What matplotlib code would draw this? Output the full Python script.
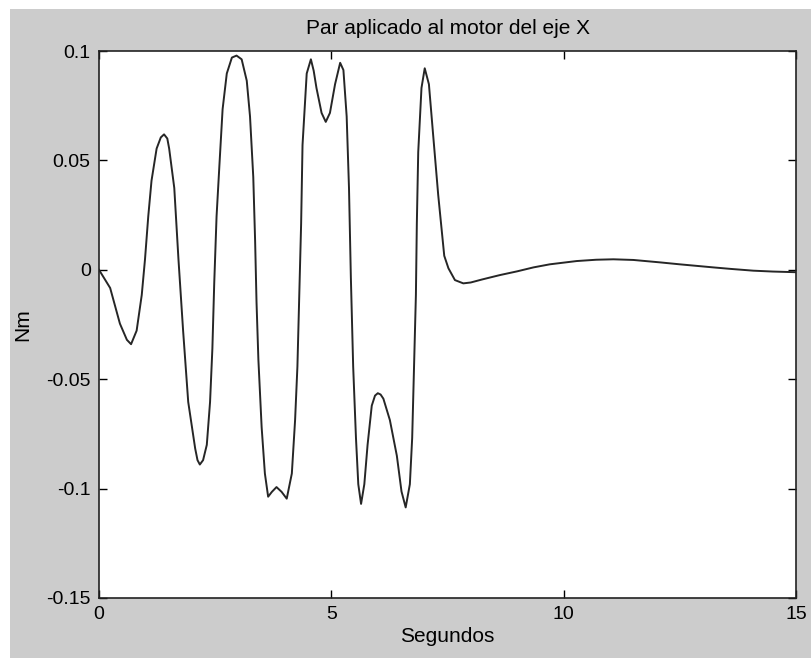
import numpy as np
import matplotlib
matplotlib.use('Agg')
import matplotlib.pyplot as plt
from matplotlib.patches import Rectangle
from matplotlib import font_manager

# Datos (segundos, Nm)
t = [0.0, 0.24, 0.45, 0.60, 0.69, 0.81, 0.92, 0.99, 1.06, 1.13, 1.24, 1.33,
     1.40, 1.47, 1.51, 1.62, 1.71, 1.81, 1.92, 2.07, 2.12, 2.17, 2.24, 2.32,
     2.39, 2.44, 2.48, 2.53, 2.59, 2.66, 2.75, 2.86, 2.96, 3.07, 3.18, 3.25,
     3.32, 3.36, 3.39, 3.43, 3.50, 3.57, 3.64, 3.72, 3.82, 3.93, 4.04, 4.15,
     4.22, 4.27, 4.31, 4.35, 4.38, 4.47, 4.56, 4.62, 4.68, 4.79, 4.88, 4.97,
     5.08, 5.19, 5.26, 5.33, 5.38, 5.42, 5.47, 5.53, 5.58, 5.64, 5.71, 5.78,
     5.87, 5.94, 6.00, 6.06, 6.12, 6.26, 6.41, 6.51, 6.60, 6.69, 6.74, 6.78,
     6.82, 6.84, 6.87, 6.94, 7.01, 7.10, 7.19, 7.30, 7.43, 7.52, 7.66, 7.84,
     8.00, 8.23, 8.40, 8.63, 9.00, 9.35, 9.70, 10.28, 10.70, 11.07, 11.50,
     12.07, 12.50, 13.22, 13.60, 14.08, 14.50, 15.0]
par = [0.0, -0.0083, -0.0246, -0.0320, -0.0340, -0.0278, -0.0115, 0.0048,
       0.0244, 0.0407, 0.0554, 0.0605, 0.0619, 0.0600, 0.0554, 0.0374, 0.0048,
       -0.0278, -0.0604, -0.0817, -0.0870, -0.0890, -0.0870, -0.0800, -0.0604,
       -0.0360, -0.0060, 0.0244, 0.0473, 0.0734, 0.0897, 0.0970, 0.0979,
       0.0962, 0.0864, 0.0701, 0.0424, 0.0130, -0.0148, -0.0410, -0.0719,
       -0.0931, -0.1037, -0.1015, -0.0993, -0.1015, -0.1046, -0.0931, -0.0687,
       -0.0442, -0.0115, 0.0211, 0.0570, 0.0897, 0.0962, 0.0910, 0.0831,
       0.0717, 0.0676, 0.0717, 0.0848, 0.0946, 0.0913, 0.0701, 0.0374,
       -0.0033, -0.0442, -0.0768, -0.0980, -0.1070, -0.0980, -0.0800, -0.0621,
       -0.0575, -0.0564, -0.0570, -0.0589, -0.0687, -0.0850, -0.1013, -0.1086,
       -0.0980, -0.0768, -0.0442, -0.0115, 0.0211, 0.0538, 0.0831, 0.0921,
       0.0848, 0.0619, 0.0342, 0.0064, 0.0007, -0.0047, -0.0062,
       -0.0058, -0.0045, -0.0036, -0.0024, -0.0007, 0.0011, 0.0025, 0.0040,
       0.0046, 0.0048, 0.0045, 0.0034, 0.0025, 0.0011, 0.0004, -0.0004,
       -0.0008, -0.0011]

xticks = [0, 5, 10, 15]
yticks = [-0.15, -0.1, -0.05, 0, 0.05, 0.1]
ytick_labels = ['-0.15', '-0.1', '-0.05', '0', '0.05', '0.1']

names = {f.name for f in font_manager.fontManager.ttflist}
fam = 'Liberation Sans Narrow' if 'Liberation Sans Narrow' in names else 'Liberation Sans'
plt.rcParams['font.family'] = [fam, 'DejaVu Sans']
plt.rcParams['axes.unicode_minus'] = False

W, H = 811, 658
fig = plt.figure(figsize=(W / 100, H / 100), dpi=100, facecolor='white')
fig.patches.append(Rectangle((10 / W, 0), 1, (H - 9) / H, transform=fig.transFigure,
                             facecolor='#cccccc', edgecolor='none', zorder=-10))

ax = fig.add_axes([99 / W, 1 - 598 / H, (796 - 99) / W, (598 - 51) / H])
ax.set_facecolor('white')
ax.plot(t, par, color='#262626', linewidth=1.4)

ax.set_xlim(0, 15)
ax.set_ylim(-0.15, 0.1)
ax.set_xticks(xticks)
ax.set_xticklabels([str(v) for v in xticks])
ax.set_yticks(yticks)
ax.set_yticklabels(ytick_labels)
ax.tick_params(direction='in', top=True, right=True, length=6, width=1,
               labelsize=14, colors='black')
ax.tick_params(axis='x', pad=6)
ax.tick_params(axis='y', pad=6)
for s in ax.spines.values():
    s.set_linewidth(1.2)
    s.set_color('#222222')

ax.set_title('Par aplicado al motor del eje X', fontsize=15, pad=12)
ax.set_xlabel('Segundos', fontsize=15, labelpad=3)
ax.set_ylabel('Nm', fontsize=15, labelpad=10)

fig.savefig('out.png', dpi=100, facecolor=fig.get_facecolor())
